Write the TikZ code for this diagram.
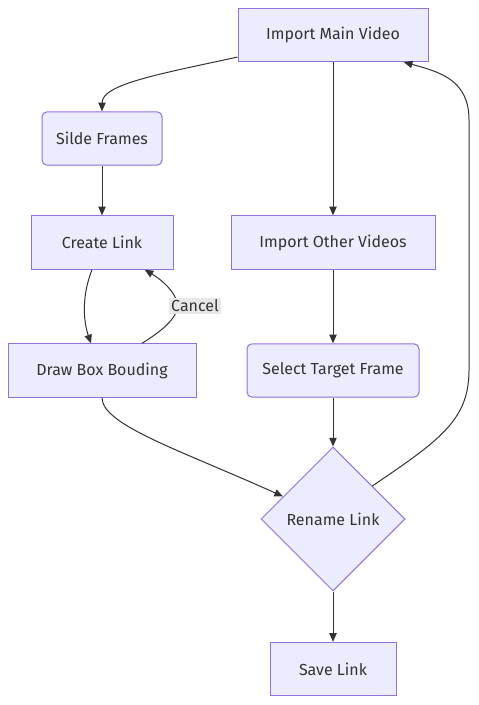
\documentclass[tikz,border=0pt]{standalone}
\usepackage{fontspec}
\setmainfont{Fira Sans}
\usepackage{tikz}
\usetikzlibrary{shapes.geometric}
\usetikzlibrary{arrows.meta}
\usepackage{xcolor}
\definecolor{boxfill}{HTML}{ECECFF}
\definecolor{boxline}{HTML}{9370DB}
\definecolor{edgeline}{HTML}{333333}
\definecolor{lblfill}{HTML}{E8E8E8}

\begin{document}
\begin{tikzpicture}[x=0.75pt,y=-0.75pt,
  box/.style={draw=boxline, fill=boxfill, line width=0.75pt, text=edgeline, inner sep=0pt, minimum height=40pt, font=\fontsize{12}{14}\selectfont},
  rbox/.style={box, rounded corners=3.75pt},
  choice/.style={box, diamond, aspect=1, minimum width=108pt, minimum height=108pt},
  link/.style={draw=edgeline, line width=0.75pt, -{Triangle[length=6.5pt,width=5.5pt]}},
  lbl/.style={fill=lblfill, text=edgeline, inner sep=1.5pt, font=\fontsize{12}{14}\selectfont}]
\useasboundingbox (0,0) rectangle (478,705);
\fill [white] (0,0) rectangle (478,705);

% nodes
\node [box, minimum width=142.5pt] (imv) at (333,35) {Import Main Video};
\node [rbox, minimum width=90pt] (sf) at (102,138.5) {Silde Frames};
\node [box, minimum width=106.5pt] (cl) at (102,242.5) {Create Link};
\node [box, minimum width=153pt] (iov) at (333,242.5) {Import Other Videos};
\node [box, minimum width=141pt] (dbb) at (102,370.5) {Draw Box Bouding};
\node [rbox, minimum width=129pt] (stf) at (333,370.5) {Select Target Frame};
\node [choice] (rn) at (333,519) {Rename Link};
\node [box, minimum width=94.5pt] (sl) at (333,669) {Save Link};

% edges
\draw [link] (imv.193) .. controls (160,74) and (102,84) .. (sf.north);
\draw [link] (sf) -- (cl);
\draw [link] ([xshift=-7.5pt]cl.south) .. controls (82,295) and (83,320) .. ([xshift=-8.25pt]dbb.north);
\draw [link] ([xshift=30pt]dbb.north) .. controls (160,332) and (176,320) .. (178,306)
  .. controls (176,292) and (162,280) .. ([xshift=32pt]cl.south);
\node [lbl] (cancel) at (195,306) {Cancel};
\draw [link] (dbb.south) .. controls (102,425) and (180,450) .. (rn);
\draw [link] (imv) -- (iov);
\draw [link] (iov) -- (stf);
\draw [link] (stf) -- (rn);
\draw [link] (rn) -- (sl);
\draw [link] (rn.40) .. controls (440,440) and (469,420) .. (469,370) -- (469,120)
  .. controls (469,80) and (440,72) .. (imv.-21);

\end{tikzpicture}
\end{document}
